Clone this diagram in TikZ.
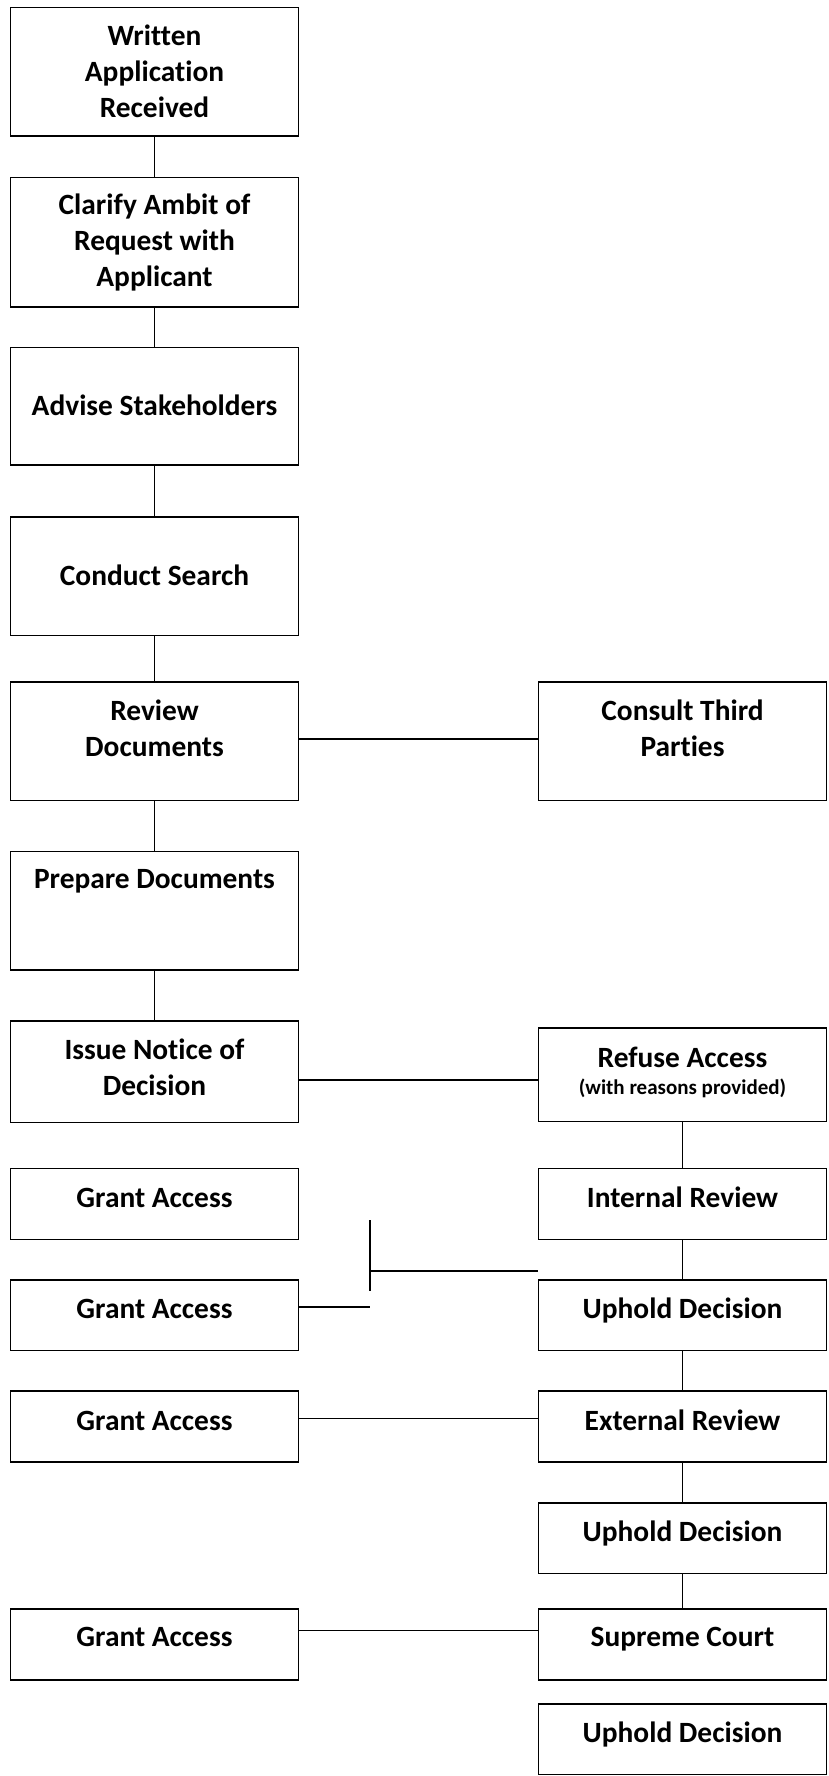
\documentclass[tikz,border=0pt]{standalone}
\usepackage{fontspec}
\setmainfont{Carlito}[Ligatures=NoCommon]
\newcommand{\stagefont}{\bfseries\fontsize{29.4}{35.9}\selectfont}
\newcommand{\notefont}{\fontsize{21}{27.3}\selectfont}
\begin{document}
\begin{tikzpicture}[x=1pt,y=-1pt,line width=1.5pt,
	stage/.style={draw,rectangle,inner sep=0pt,minimum width=288pt,minimum height=#1,align=center,font=\stagefont,text height=18.6pt,text depth=12pt}]
	\useasboundingbox (0,0) rectangle (829,1776);
	\node[stage=128.5pt,text height=90.4pt,text depth=0pt] (written) at (154.5,72) {Written\\Application\\Received};
	\node[stage=129.5pt,text height=90.4pt,text depth=2pt] (clarify) at (154.5,242.5) {Clarify Ambit of\\Request with\\Applicant};
	\node[stage=117.5pt,text depth=-10pt] (advise) at (154.5,406) {Advise Stakeholders};
	\node[stage=118.5pt,text depth=-12pt] (conduct) at (154.5,576) {Conduct Search};
	\node[stage=118.5pt,text height=54.5pt,text depth=23pt] (review) at (154.5,741) {Review\\Documents};
	\node[stage=118.5pt,text height=54.5pt,text depth=23pt] (consult) at (682.5,741) {Consult Third\\Parties};
	\node[stage=118.5pt,text depth=63pt] (prepare) at (154.5,910.5) {Prepare Documents};
	\node[stage=101.5pt,text height=54.5pt,text depth=6pt] (issue) at (154.5,1071.5) {Issue Notice of\\Decision};
	\node[stage=93.5pt,text height=45.9pt,text depth=6pt,font=\bfseries\fontsize{29.4}{27.3}\selectfont] (refuse) at (682.5,1074.5) {Refuse Access\\{\notefont (with reasons provided)}};
	\node[stage=71pt] (grant1) at (154.5,1204) {Grant Access};
	\node[stage=71pt] (internal) at (682.5,1204) {Internal Review};
	\node[stage=70.5pt] (grant2) at (154.5,1315) {Grant Access};
	\node[stage=70.5pt] (uphold1) at (682.5,1315) {Uphold Decision};
	\node[stage=71pt,text depth=11pt] (grant3) at (154.5,1426.5) {Grant Access};
	\node[stage=71pt,text depth=11pt] (external) at (682.5,1426.5) {External Review};
	\node[stage=70.5pt] (uphold2) at (682.5,1538) {Uphold Decision};
	\node[stage=71pt,text depth=14pt] (grant4) at (154.5,1644.5) {Grant Access};
	\node[stage=71pt,text depth=14pt] (supreme) at (682.5,1644.5) {Supreme Court};
	\node[stage=70.5pt,text depth=11pt] (uphold3) at (682.5,1739) {Uphold Decision};
	\draw (written) -- (clarify);
	\draw (clarify) -- (advise);
	\draw (advise) -- (conduct);
	\draw (conduct) -- (review);
	\draw (review) -- (prepare);
	\draw (prepare) -- (issue);
	\draw ([yshift=2pt]review.east) -- ([yshift=2pt]consult.west);
	\draw ([yshift=-8.5pt]issue.east) coordinate (i) -- (i -| refuse.west);
	\draw (refuse) -- (internal);
	\draw (internal) -- (uphold1);
	\draw (uphold1) -- (external);
	\draw (external) -- (uphold2);
	\draw (uphold2) -- (supreme);
	\coordinate (teetop) at (370,1220);
	\coordinate (teebot) at (370,1291);
	\coordinate (tee) at (370,1271);
	\draw (teetop) -- (teebot);
	\draw (tee) -- (tee -| internal.west);
	\draw ([yshift=8pt]grant2.east) coordinate (g) -- (g -| tee);
	\draw ([yshift=8pt]grant3.east) coordinate (e) -- (e -| external.west);
	\draw ([yshift=14pt]grant4.east) coordinate (s) -- (s -| supreme.west);
\end{tikzpicture}
\end{document}
